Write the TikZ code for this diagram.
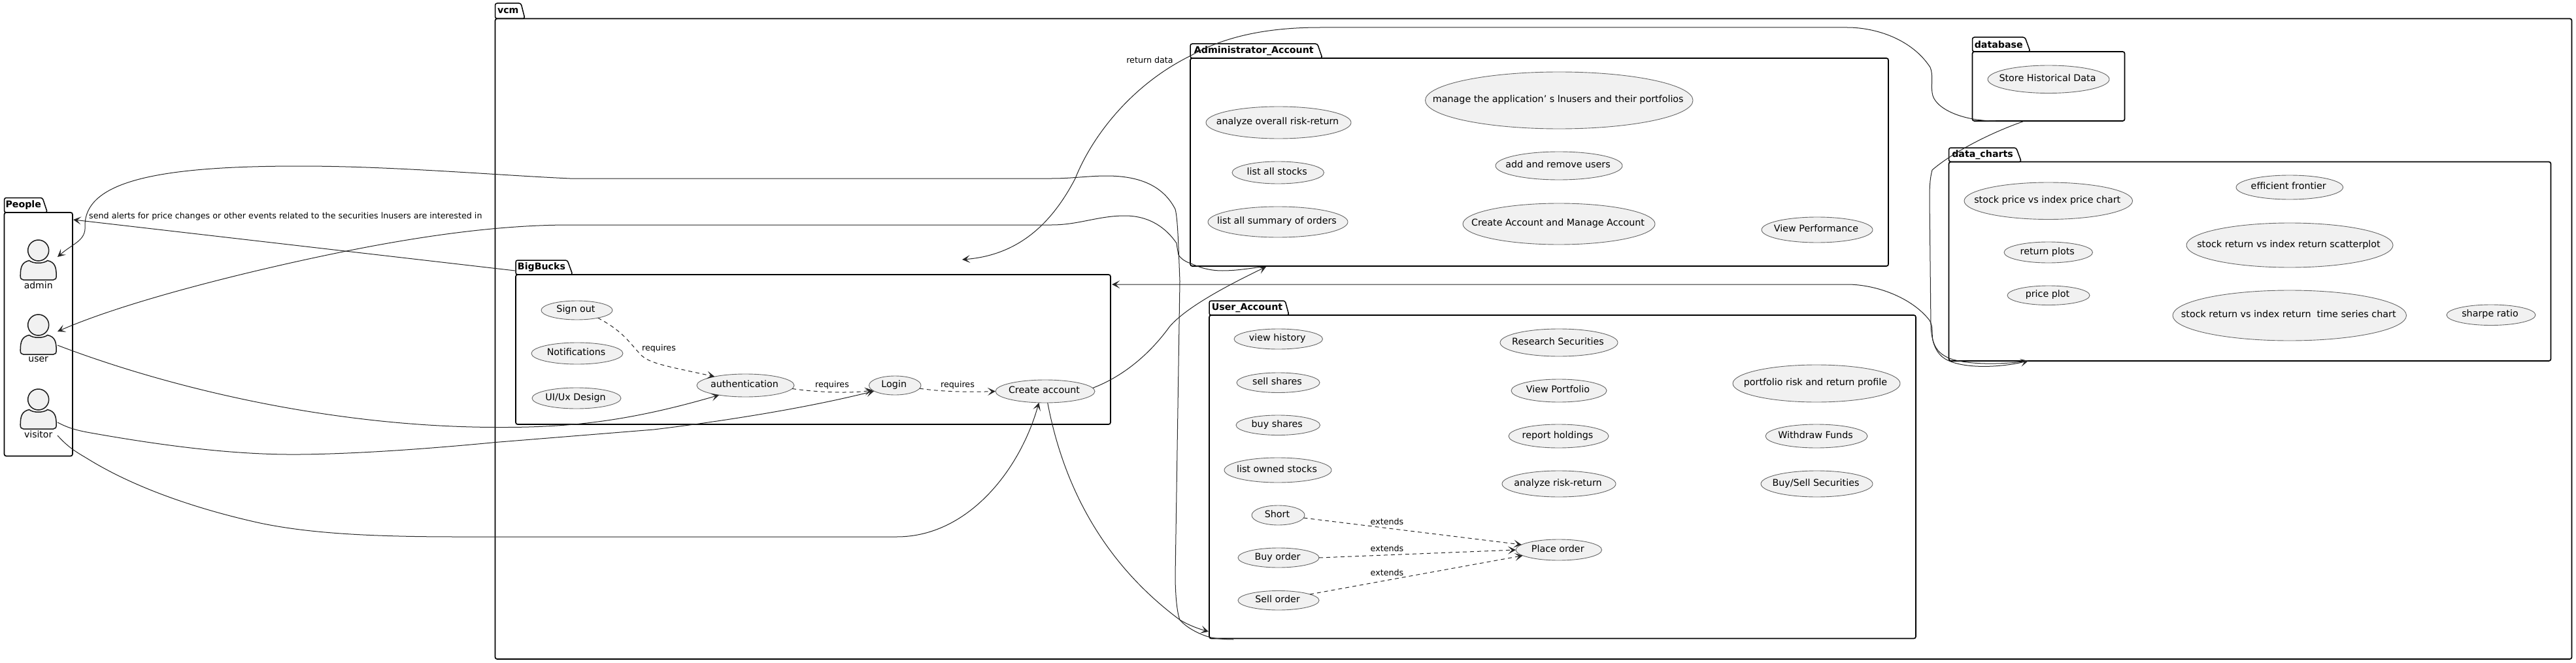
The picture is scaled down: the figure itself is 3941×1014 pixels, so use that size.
\documentclass[tikz,border=0pt]{standalone}
\usepackage{fontspec}
\setmainfont{DejaVu Sans}
\usetikzlibrary{shapes.geometric,arrows.meta,fit}
\definecolor{ucfill}{HTML}{F1F1F1}
\tikzset{
  x=1pt,y=-1pt,
  pkgbox/.style={draw=black,line width=1.7pt,rounded corners=3pt,inner sep=0pt,outer sep=0pt},
  pkgtab/.style={draw=black,line width=1.5pt,rounded corners=3pt,fill=white},
  pkglabel/.style={font=\fontsize{14.2}{16}\bfseries\selectfont,inner sep=0pt,anchor=center},
  usecase/.style={draw=black!60,fill=ucfill,line width=0.9pt,ellipse,inner sep=0pt,outer sep=0pt,font=\fontsize{14.3}{16}\selectfont},
  linktxt/.style={font=\fontsize{12.7}{15}\selectfont,inner sep=0pt},
  acttxt/.style={font=\fontsize{14}{16}\selectfont,inner sep=0pt},
  actorpart/.style={draw=black!90,fill=ucfill,line width=1.5pt},
  plainconn/.style={draw=black!85,line width=1pt},
  conn/.style={plainconn,-{Stealth[length=12pt,width=12pt,inset=6pt]}},
  depend/.style={conn,dash pattern=on 6pt off 5pt},
  revconn/.style={plainconn,{Stealth[length=12pt,width=12pt,inset=6pt]}-},
}
% package: id, label, x1,y1,x2,y2, tab top y, tab top-right x, tab bottom-right x
\newcommand{\pkg}[9]{%
  \draw[pkgtab] (#3,#4) -- (#3,#7) -- (#8,#7) -- (#9,#4) -- cycle;
  \node[pkgbox,fit={(#3,#4)(#5,#6)}] (#1) {};
  \node[pkglabel] (#1title) at ({(#3+#8)/2},{(#7+#4)/2}) {#2};
}
\newcommand{\ucase}[6]{%
  \node[usecase,minimum width={(#4)-(#2)},minimum height={(#5)-(#3)}] (#1) at ({(#2+#4)/2},{(#3+#5)/2}) {\makebox[0pt]{\strut#6\hspace{3pt}}};
}
\newcommand{\actr}[4]{% id, label, centre x, head y
  \begin{scope}[shift={(#3,#4)}]
  \draw[actorpart] (-27.5,39) .. controls (-27.5,25) and (-25,18) .. (-14,15.5) .. controls (-8,20.5) and (8,20.5) .. (14,15.5) .. controls (25,18) and (27.5,25) .. (27.5,39) .. controls (27.5,43) and (26,45) .. (23,45) -- (-23,45) .. controls (-26,45) and (-27.5,43) .. (-27.5,39) -- cycle;
  \node[actorpart,ellipse,minimum width=32pt,minimum height=32pt,inner sep=0pt,outer sep=0pt] (#1) at (0,0) {};
  \node[acttxt] (#1label) at (0,53) {#2};
  \end{scope}
}
\begin{document}
\begin{tikzpicture}
\useasboundingbox (0,0) rectangle (3941,1014);
% packages
\pkg{vcm}{vcm}{757.5}{28.5}{3934.5}{1008}{5}{797}{803}
\pkg{People}{People}{6.5}{325}{111}{697.5}{302.5}{65}{72.5}
\pkg{BigBucks}{BigBucks}{789}{420}{1699}{649}{398}{868}{876}
\pkg{AdminA}{Administrator\_Account}{1821}{89}{2889}{407}{67}{2015.5}{2023}
\pkg{UserA}{User\_Account}{1850}{482}{2931}{976.5}{460}{1966}{1972}
\pkg{db}{database}{3017.5}{79}{3250.5}{185}{57}{3098}{3106}
\pkg{charts}{data\_charts}{2981.5}{247.5}{3902.5}{552}{226}{3084.5}{3092.5}
% actors
\actr{admin}{admin}{58.7}{383}
\actr{user}{user}{58.7}{497}
\actr{visitor}{visitor}{58.7}{611}
% use cases: id, x1,y1,x2,y2, text
\ucase{signout}{828}{460}{937}{489}{Sign out}
\ucase{notif}{813}{524}{953}{557}{Notifications}
\ucase{uiux}{814}{593}{950}{625}{UI/Ux Design}
\ucase{auth}{1066}{572}{1215}{607}{authentication}
\ucase{login}{1329.5}{575}{1409}{604}{Login}
\ucase{create}{1523}{581}{1675}{616}{Create account}
\ucase{manage}{2180.5}{110}{2590}{197}{manage the application' s lnusers and their portfolios}
\ucase{overall}{1845}{163}{2067}{212}{analyze overall risk-return}
\ucase{addrem}{2288}{232}{2482}{275}{add and remove users}
\ucase{allstocks}{1885}{247}{2025.5}{281}{list all stocks}
\ucase{summary}{1848}{316}{2062}{363}{list all summary of orders}
\ucase{camanage}{2238}{311}{2532}{374}{Create Account and Manage Account}
\ucase{perf}{2695}{332}{2865}{371}{View Performance}
\ucase{history}{1888}{503}{2023.5}{534}{view history}
\ucase{sellsh}{1892}{570}{2019}{600.5}{sell shares}
\ucase{buysh}{1891}{635}{2019.5}{665.5}{buy shares}
\ucase{owned}{1873}{700}{2037}{738}{list owned stocks}
\ucase{short}{1915}{773}{1996}{803}{Short}
\ucase{buyo}{1894}{838}{2018}{868}{Buy order}
\ucase{sello}{1894}{903.5}{2018}{933}{Sell order}
\ucase{research}{2295}{503}{2475}{545}{Research Securities}
\ucase{portfolio}{2312}{580}{2458}{615}{View Portfolio}
\ucase{report}{2308}{649}{2461}{685}{report holdings}
\ucase{risk}{2298}{720}{2472}{760}{analyze risk-return}
\ucase{place}{2319}{825}{2450.5}{857}{Place order}
\ucase{profile}{2651}{558}{2907}{615}{portfolio risk and return profile}
\ucase{withdraw}{2701}{649}{2857}{685}{Withdraw Funds}
\ucase{buysell}{2694}{720}{2865}{760}{Buy/Sell Securities}
\ucase{store}{3041}{100}{3227}{142.5}{Store Historical Data}
\ucase{pricechart}{3005}{279}{3262.5}{335.5}{stock price vs index price chart}
\ucase{frontier}{3421}{268}{3584.5}{305}{efficient frontier}
\ucase{scatter}{3345}{341}{3661}{409}{stock return vs index return scatterplot}
\ucase{retplots}{3066}{370}{3201.5}{402}{return plots}
\ucase{priceplot}{3071}{437}{3197}{466.5}{price plot}
\ucase{series}{3324}{444}{3681.5}{521}{stock return vs index return~ time series chart}
\ucase{sharpe}{3743}{466}{3879}{497.5}{sharpe ratio}
% free ends
\coordinate (peopleIn) at (112,336);
\coordinate (bbOut) at (788,414);
\coordinate (adminIn) at (88,393);
\coordinate (userIn) at (88,507);
\coordinate (userOut) at (88,528);
\coordinate (visOutA) at (88,646);
\coordinate (visOutB) at (88,666);
\coordinate (vcmPort) at (1472,397);
\coordinate (dbOutA) at (3053,185);
\coordinate (dbOutB) at (3096,185.5);
\coordinate (chartsIn) at (3103,552);
\coordinate (adminAIn) at (1937,408);
\coordinate (adminAEnd) at (1930,408);
\coordinate (userAIn) at (1849,966);
\coordinate (userAEnd) at (1887,978);
\coordinate (bbIn) at (1701,435);
% connectors
\draw[conn] (bbOut) -- (peopleIn);
\draw[revconn] (adminIn) .. controls (112,372) and (132,368) .. (130,345) .. controls (130,275) and (250,254) .. (459,254) .. controls (600,254) and (760,268) .. (872,273) -- (1609,273) .. controls (1640,273) and (1665,269) .. (1693,269) .. controls (1745,269) and (1780,285) .. (1798,320) .. controls (1802,335) and (1803,380) .. (1805,430) -- (1798,880) .. controls (1798,905) and (1800,935) .. (1805,948) .. controls (1815,960) and (1835,970) .. (1849,974) .. controls (1860,977) and (1875,978) .. (userAEnd);
\draw[revconn] (userIn) .. controls (200,458) and (400,410) .. (530,384) .. controls (640,362) and (760,344) .. (872,344) -- (1609,344) .. controls (1650,344) and (1680,330) .. (1721,330) .. controls (1760,330) and (1785,350) .. (1800,372) .. controls (1801,380) and (1802,385) .. (1803,390) .. controls (1808,397) and (1815,401) .. (1822,403) .. controls (1835,409) and (1850,414) .. (1870,414) .. controls (1890,414) and (1910,411) .. (adminAEnd);
\draw[conn] (userOut) .. controls (250,590) and (500,653) .. (760,653.5) .. controls (870,654) and (960,645) .. (auth.-160);
\draw[conn] (visOutA) .. controls (105,655) and (118,658) .. (133,661) .. controls (250,682) and (360,696) .. (459,695) .. controls (560,694) and (680,684) .. (758,676.5) -- (1000,657) .. controls (1100,645) and (1230,625) .. (login.-165);
\draw[conn] (visOutB) .. controls (105,685) and (118,692) .. (133,701) .. controls (220,755) and (330,785) .. (398,800) .. controls (470,815) and (560,821) .. (700,821) -- (1372,821) .. controls (1480,821) and (1560,720) .. (create.-119);
\draw[conn] (create.-78) .. controls (1630,760) and (1700,870) .. (1805,948) .. controls (1820,957) and (1835,962) .. (userAIn);
\draw[conn] (create.4) .. controls (1720,575) and (1760,540) .. (1789,500) .. controls (1810,475) and (1860,445) .. (adminAIn);
\draw[revconn] (vcmPort) .. controls (1560,390) and (1610,340) .. (1645,273) .. controls (1670,210) and (1730,130) .. (1822,85) .. controls (1880,52) and (1950,42) .. (2020,42) -- (2826,42) .. controls (2870,42) and (2925,60) .. (2953,103) .. controls (2958,115) and (2954,130) .. (2956,141.6) .. controls (2958,165) and (3000,185) .. (dbOutA);
\draw[revconn] (bbIn) -- (2826,435) .. controls (2870,435) and (2925,455) .. (2952,490) .. controls (2958,500) and (2955,510) .. (2957,520) .. controls (2962,538) and (2972,543) .. (2982,548) .. controls (3010,558) and (3060,558) .. (chartsIn);
\draw[conn] (dbOutB) .. controls (3040,205) and (2985,235) .. (2956,260) .. controls (2952,275) and (2952,290) .. (2952,306) -- (2954,500) .. controls (2956,530) and (2965,545) .. (2982,552) .. controls (3010,564) and (3060,562) .. (chartsIn);
\draw[depend] (signout.-20) .. controls (950,505) and (960,520) .. (977,539) .. controls (990,555) and (1010,558) .. (auth.164.5);
\draw[depend] (auth.-4.5) .. controls (1250,600) and (1300,602) .. (login.-168);
\draw[depend] (login.-7) .. controls (1440,599) and (1480,600) .. (create.west);
\draw[depend] (short.-6) -- (place.172);
\draw[depend] (buyo.east) -- (place.west);
\draw[depend] (sello.11) -- (place.-171);
% link labels
\node[linktxt,anchor=west] (alerts) at (136,331) {send alerts for price changes or other events related to the securities lnusers are interested in};
\node[linktxt] (rd) at (1759,92) {return data};
\node[linktxt] (rq1) at (1008,533) {requires};
\node[linktxt] (rq2) at (1273,589) {requires};
\node[linktxt] (rq3) at (1465,589) {requires};
\node[linktxt] (ex1) at (2122,798) {extends};
\node[linktxt] (ex2) at (2122,839) {extends};
\node[linktxt] (ex3) at (2122,876) {extends};
\end{tikzpicture}
\end{document}
